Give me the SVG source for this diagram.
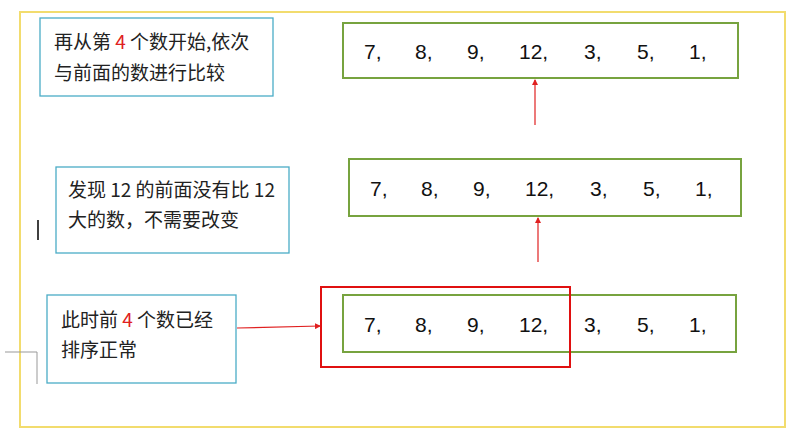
<svg xmlns="http://www.w3.org/2000/svg" width="793" height="433" viewBox="0 0 793 433">
<style>
.t{font-family:"Noto Sans CJK SC","Liberation Sans",sans-serif;font-size:19px;fill:#222}
.n{font-family:"Liberation Sans",sans-serif;font-size:21px;fill:#111}
.r{fill:#e02020}
.blue{fill:#fff;stroke:#4bacc6;stroke-width:1.3}
.green{fill:#fff;stroke:#77a33f;stroke-width:2}
.arr{stroke:#e02020;stroke-width:1.2;fill:none;marker-end:url(#a)}
</style>
<defs><marker id="a" markerWidth="6" markerHeight="6" refX="5" refY="3" orient="auto" markerUnits="userSpaceOnUse"><path d="M0,0L6,3L0,6z" fill="#e02020"/></marker></defs>
<rect width="793" height="433" fill="#fff"/>
<rect x="20" y="12" width="765" height="415" fill="none" stroke="#f2dc6e" stroke-width="2"/>
<path d="M5,352H37V384" fill="none" stroke="#999" stroke-width="1"/>
<line x1="38" y1="220" x2="38" y2="240" stroke="#000" stroke-width="1.5"/>
<g id="note1"><rect class="blue" x="40" y="18" width="233" height="78"/>
<text class="t" x="54" y="49">再从第 <tspan class="r">4</tspan> 个数开始,依次</text>
<text class="t" x="54" y="80">与前面的数进行比较</text></g>
<g id="note2"><rect class="blue" x="56" y="167" width="233" height="86"/>
<text class="t" x="68" y="197">发现 12 的前面没有比 12</text>
<text class="t" x="68" y="227">大的数，不需要改变</text></g>
<g id="note3"><rect class="blue" x="47" y="295" width="189" height="88"/>
<text class="t" x="61" y="327">此时前 <tspan class="r">4</tspan> 个数已经</text>
<text class="t" x="61" y="357">排序正常</text></g>
<g id="row1"><rect class="green" x="343" y="23" width="395" height="55"/>
<text class="n" y="59"><tspan x="364">7,</tspan><tspan x="415">8,</tspan><tspan x="467">9,</tspan><tspan x="519">12,</tspan><tspan x="584">3,</tspan><tspan x="637">5,</tspan><tspan x="689">1,</tspan></text></g>
<g id="row2"><rect class="green" x="349" y="159" width="392" height="57"/>
<text class="n" y="196"><tspan x="370">7,</tspan><tspan x="421">8,</tspan><tspan x="473">9,</tspan><tspan x="525">12,</tspan><tspan x="590">3,</tspan><tspan x="643">5,</tspan><tspan x="695">1,</tspan></text></g>
<g id="row3"><rect class="green" x="343" y="295" width="393" height="57"/>
<text class="n" y="332"><tspan x="364">7,</tspan><tspan x="415">8,</tspan><tspan x="467">9,</tspan><tspan x="519">12,</tspan><tspan x="584">3,</tspan><tspan x="637">5,</tspan><tspan x="689">1,</tspan></text></g>
<g id="highlight"><rect x="321" y="287" width="249" height="80" fill="none" stroke="#e01010" stroke-width="2"/></g>
<g id="connectors">
<line class="arr" x1="535" y1="125" x2="535" y2="80"/>
<line class="arr" x1="538" y1="262" x2="538" y2="218"/>
<line class="arr" x1="237" y1="328" x2="320" y2="326"/>
</g>
</svg>
